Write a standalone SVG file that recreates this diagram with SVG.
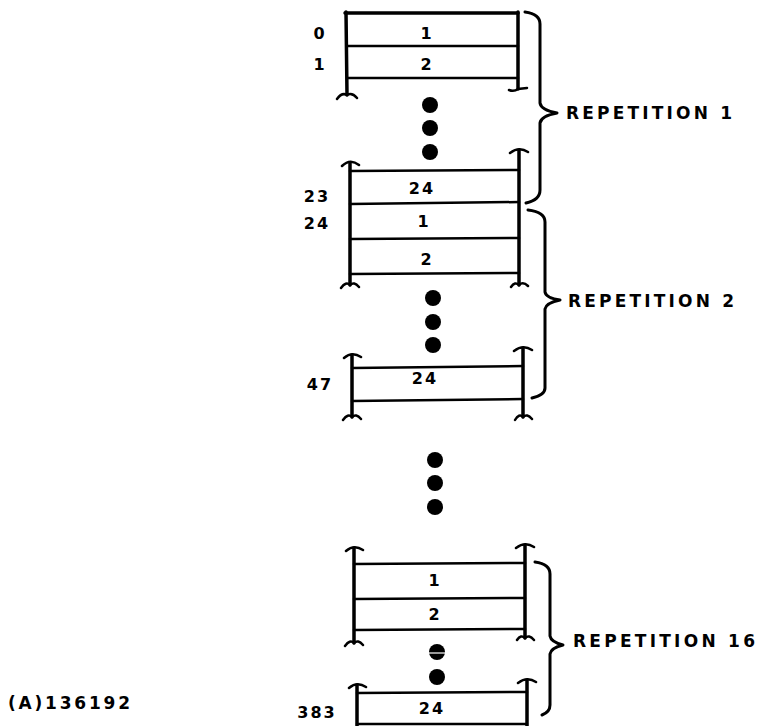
<svg xmlns="http://www.w3.org/2000/svg" width="761" height="726" viewBox="0 0 761 726">
<style>
.ln{stroke:#000;stroke-width:2.5;fill:none;stroke-linecap:round}
.vt{stroke:#000;stroke-width:3.5;fill:none;stroke-linecap:round}
.br{stroke:#000;stroke-width:3;fill:none;stroke-linecap:round;stroke-linejoin:round}
.t{font-family:"DejaVu Sans","Liberation Sans",sans-serif;font-size:16px;font-weight:bold;fill:#000;text-anchor:middle;letter-spacing:2px}
.r{font-family:"DejaVu Sans","Liberation Sans",sans-serif;font-size:17px;font-weight:bold;fill:#000}
.d{fill:#000}
</style>
<rect width="761" height="726" fill="#fff"/>
<g id="block1">
<path class="vt" d="M345,13 L518,13"/>
<path class="vt" d="M346,12 L347,95 M518,12 L518,89"/>
<path class="ln" d="M347,46 L518,46 M348,78 L518,78"/>
<path class="ln" d="M337,99 Q342,92 347,95 Q352,92 357,98 M509,90 Q514,92 518,89 L527,88"/>
<text class="t" x="427" y="39">1</text>
<text class="t" x="427" y="70">2</text>
<text class="t" x="320" y="39">0</text>
<text class="t" x="320" y="70">1</text>
</g>
<g id="dots1">
<circle class="d" cx="430" cy="105" r="8"/>
<circle class="d" cx="430" cy="128" r="8"/>
<circle class="d" cx="430" cy="152" r="8"/>
</g>
<g id="block2">
<path class="vt" d="M350,163 L350,285 M519,150 L519,285"/>
<path class="ln" d="M342,166 Q350,158 359,165 M510,153 Q519,146 528,152"/>
<path class="ln" d="M350,171 L519,170 M350,204 L519,202 M350,239 L519,238 M350,274 L519,273"/>
<path class="ln" d="M341,288 Q346,281 350,285 Q354,281 359,287 M511,287 Q515,281 519,285 Q523,281 528,286"/>
<text class="t" x="422" y="194">24</text>
<text class="t" x="317" y="202">23</text>
<text class="t" x="317" y="229">24</text>
<text class="t" x="424" y="227">1</text>
<text class="t" x="427" y="265">2</text>
</g>
<g id="dots2">
<circle class="d" cx="433" cy="298" r="8"/>
<circle class="d" cx="433" cy="322" r="8"/>
<circle class="d" cx="433" cy="345" r="8"/>
</g>
<g id="block3">
<path class="vt" d="M352,355 L352,417 M523,348 L523,417"/>
<path class="ln" d="M344,358 Q352,351 361,357 M514,351 Q523,344 532,350"/>
<path class="ln" d="M352,368 L523,366 M352,401 L523,399"/>
<path class="ln" d="M343,420 Q348,413 352,417 Q356,413 361,419 M515,420 Q519,413 523,417 Q527,413 532,419"/>
<text class="t" x="425" y="384">24</text>
<text class="t" x="320" y="390">47</text>
</g>
<g id="dots3">
<circle class="d" cx="435" cy="460" r="8"/>
<circle class="d" cx="435" cy="483" r="8"/>
<circle class="d" cx="435" cy="507" r="8"/>
</g>
<g id="block4">
<path class="vt" d="M354,548 L354,643 M525,545 L525,638"/>
<path class="ln" d="M346,551 Q354,544 363,550 M516,548 Q525,541 534,547"/>
<path class="ln" d="M354,564 L525,563 M354,599 L525,598 M354,630 L525,629"/>
<path class="ln" d="M345,646 Q350,639 354,643 Q358,639 363,645 M517,640 Q521,634 525,638 Q529,634 534,640"/>
<text class="t" x="435" y="586">1</text>
<text class="t" x="435" y="620">2</text>
</g>
<g id="dots4">
<circle class="d" cx="437" cy="652" r="8"/>
<circle class="d" cx="437" cy="677" r="8"/>
<line x1="428" y1="653" x2="446" y2="653" stroke="#fff" stroke-width="1.2"/>
</g>
<g id="block5">
<path class="vt" d="M357,685 L357,728 M527,680 L527,728"/>
<path class="ln" d="M349,688 Q357,681 366,687 M518,683 Q527,676 536,682"/>
<path class="ln" d="M357,693 L527,692 M357,724 L527,724"/>
<text class="t" x="432" y="714">24</text>
<text class="t" x="317" y="718">383</text>
</g>
<g id="braces">
<path class="br" d="M525,12 Q540,14 540,24 L540,103 Q541,110 557,113 Q541,116 540,123 L540,190 Q540,200 526,203"/>
<path class="br" d="M528,210 Q545,212 545,222 L545,292 Q546,298 560,300 Q546,303 545,309 L545,388 Q545,395 532,398"/>
<path class="br" d="M535,562 Q550,564 550,574 L550,636 Q551,642 563,645 Q551,648 550,654 L550,705 Q550,712 542,715"/>
</g>
<g id="labels">
<text class="r" x="566" y="119" textLength="166" lengthAdjust="spacing">REPETITION 1</text>
<text class="r" x="568" y="307" textLength="166" lengthAdjust="spacing">REPETITION 2</text>
<text class="r" x="573" y="647" textLength="182" lengthAdjust="spacing">REPETITION 16</text>
<text class="r" x="8" y="709" textLength="122" lengthAdjust="spacing">(A)136192</text>
</g>
</svg>
